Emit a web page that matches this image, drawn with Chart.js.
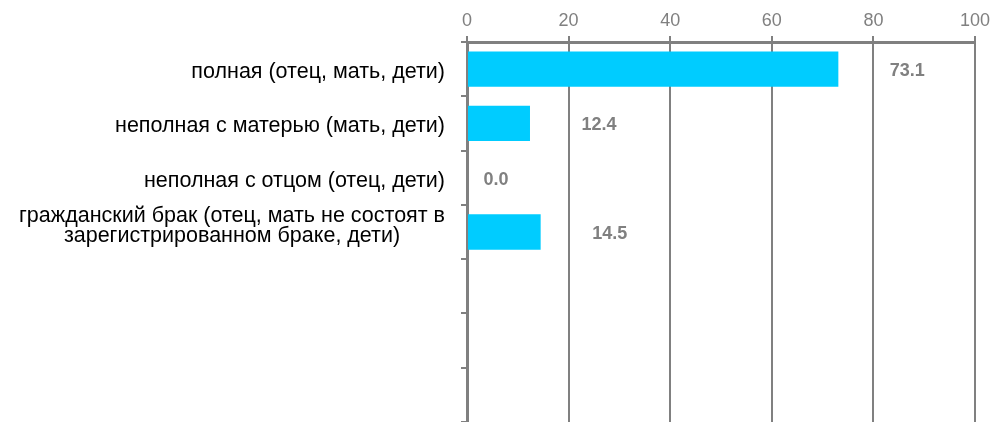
<!DOCTYPE html>
<html>
<head>
<meta charset="utf-8">
<script src="https://cdn.jsdelivr.net/npm/chart.js@4"></script>
<style>
  html, body { margin: 0; padding: 0; background: #ffffff; }
  #wrap { width: 1003px; height: 422px; position: relative; }
</style>
</head>
<body>
<div id="wrap"><canvas id="c" width="1003" height="422"></canvas></div>
<script>
const categories = [
  ["полная (отец, мать, дети)"],
  ["неполная с матерью (мать, дети)"],
  ["неполная с отцом (отец, дети)"],
  ["гражданский брак (отец, мать не состоят в", "зарегистрированном браке, дети)"],
  [""],
  [""],
  [""]
];
const values = [73.1, 12.4, 0.0, 14.5, null, null, null];
const valueLabels = ["73.1", "12.4", "0.0", "14.5", "", "", ""];
const xTicks = [0, 20, 40, 60, 80, 100];

const GRAY = "#808080";
const FONT = "'Liberation Sans', Arial, sans-serif";

const categoryLabelPlugin = {
  id: "categoryLabels",
  afterDraw(chart) {
    const ctx = chart.ctx;
    const yScale = chart.scales.y;
    const right = chart.chartArea.left - 22;
    ctx.save();
    ctx.font = "21.5px " + FONT;
    ctx.fillStyle = "#000000";
    ctx.textBaseline = "middle";
    const lh = 20;
    categories.forEach((lines, i) => {
      const yc = yScale.getPixelForValue(i);
      const widths = lines.map(l => ctx.measureText(l).width);
      const maxW = Math.max(...widths);
      const center = right - maxW / 2;
      ctx.textAlign = "center";
      lines.forEach((l, k) => {
        const y = yc + (k - (lines.length - 1) / 2) * lh + (lines.length > 1 ? -6 : 3);
        ctx.fillText(l, center, y);
      });
    });
    ctx.restore();
  }
};

const valueLabelPlugin = {
  id: "valueLabels",
  afterDatasetsDraw(chart) {
    const ctx = chart.ctx;
    const meta = chart.getDatasetMeta(0);
    const xScale = chart.scales.x;
    ctx.save();
    ctx.font = "bold 18px " + FONT;
    ctx.fillStyle = GRAY;
    ctx.textAlign = "center";
    ctx.textBaseline = "middle";
    meta.data.forEach((bar, i) => {
      if (values[i] === null) return;
      const end = xScale.getPixelForValue(values[i]);
      const gap = values[i] > 0 ? 69 : 29;
      ctx.fillText(valueLabels[i], end + gap, bar.y + 2);
    });
    ctx.restore();
  }
};

new Chart(document.getElementById("c"), {
  type: "bar",
  data: {
    labels: categories,
    datasets: [{
      data: values,
      backgroundColor: "#00CCFF",
      borderWidth: 0,
      barPercentage: 0.65,
      categoryPercentage: 1.0
    }]
  },
  options: {
    indexAxis: "y",
    responsive: false,
    animation: false,
    layout: { padding: { left: 0, right: 28, top: 0, bottom: 0 } },
    plugins: { legend: { display: false }, tooltip: { enabled: false } },
    scales: {
      x: {
        position: "top",
        min: 0,
        max: 100,
        afterBuildTicks(scale) { scale.ticks = xTicks.map(v => ({ value: v })); },
        afterFit(scale) { scale.height = 42; },
        ticks: {
          color: GRAY,
          font: { family: FONT, size: 18 },
          padding: 4
        },
        grid: {
          color: GRAY,
          lineWidth: 2,
          tickLength: 6,
          drawOnChartArea: true
        },
        border: { color: GRAY, width: 3 }
      },
      y: {
        afterFit(scale) { scale.width = 467; },
        ticks: { display: false },
        grid: {
          color: GRAY,
          lineWidth: 2,
          tickLength: 6,
          offset: true,
          drawOnChartArea: false
        },
        border: { color: GRAY, width: 3 }
      }
    }
  },
  plugins: [categoryLabelPlugin, valueLabelPlugin]
});
</script>
</body>
</html>
